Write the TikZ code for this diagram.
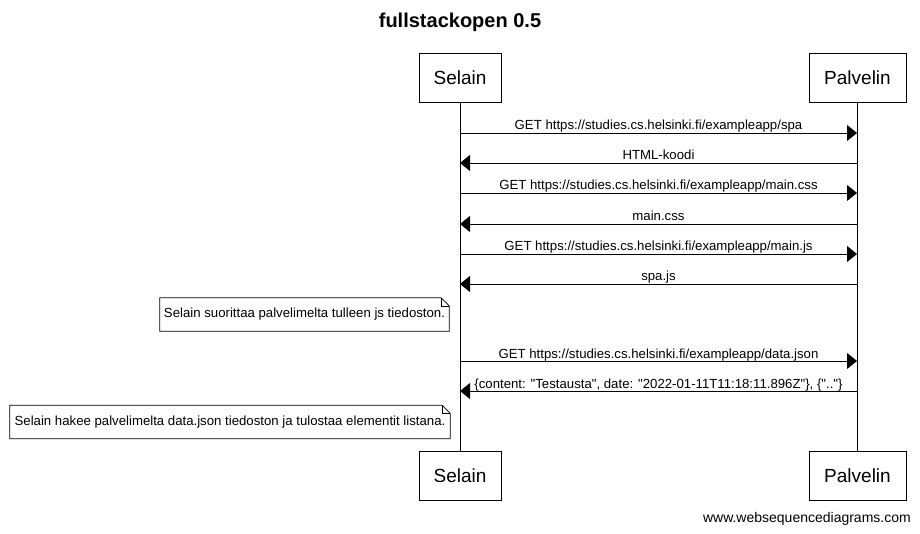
\documentclass[tikz,border=0pt]{standalone}
\usepackage{fontspec}
\setmainfont{Liberation Sans}[Ligatures=TeXOff]
\usetikzlibrary{arrows.meta}

\begin{document}
\begin{tikzpicture}[x=1pt,y=-1pt,
        actor/.style={draw,line width=0.8pt,minimum height=49pt,font=\fontsize{19}{23}\selectfont},
        msg/.style={-{Triangle[length=10pt,width=16pt]},line width=0.8pt},
        lbl/.style={anchor=base,yshift=3pt,inner sep=0pt,font=\fontsize{13.2}{15}\selectfont},
        note/.style={minimum height=33pt,inner sep=0pt,font=\fontsize{13.2}{15}\selectfont}]
        \useasboundingbox (0,0) rectangle (920,534);
        \node [font=\bfseries\fontsize{20}{24}\selectfont] (title) at (460,22) {fullstackopen 0.5};
        \node [actor,minimum width=82pt] (selT) at (460,77.5) {Selain};
        \node [actor,minimum width=97pt] (palT) at (857.5,77.5) {Palvelin};
        \node [actor,minimum width=82pt] (selB) at (460,476) {Selain};
        \node [actor,minimum width=97pt] (palB) at (857.5,476) {Palvelin};
        \draw[line width=0.8pt] (selT) -- (selB);
        \draw[line width=0.8pt] (palT) -- (palB);
        % message rows on the two lifelines
        \coordinate (s1) at (460,133); \coordinate (p1) at (857,133);
        \coordinate (s2) at (460,163); \coordinate (p2) at (857,163);
        \coordinate (s3) at (460,193); \coordinate (p3) at (857,193);
        \coordinate (s4) at (460,224); \coordinate (p4) at (857,224);
        \coordinate (s5) at (460,254); \coordinate (p5) at (857,254);
        \coordinate (s6) at (460,284); \coordinate (p6) at (857,284);
        \coordinate (s7) at (460,361); \coordinate (p7) at (857,361);
        \coordinate (s8) at (460,391); \coordinate (p8) at (857,391);
        \draw[msg] (s1) -- node[lbl] {GET https://studies.cs.helsinki.fi/exampleapp/spa} (p1);
        \draw[msg] (p2) -- node[lbl] {HTML-koodi} (s2);
        \draw[msg] (s3) -- node[lbl] {GET https://studies.cs.helsinki.fi/exampleapp/main.css} (p3);
        \draw[msg] (p4) -- node[lbl] {main.css} (s4);
        \draw[msg] (s5) -- node[lbl] {GET https://studies.cs.helsinki.fi/exampleapp/main.js} (p5);
        \draw[msg] (p6) -- node[lbl] {spa.js} (s6);
        \draw[msg] (s7) -- node[lbl] {GET https://studies.cs.helsinki.fi/exampleapp/data.json} (p7);
        \draw[msg] (p8) -- node[lbl] {\{content: "Testausta", date: "2022-01-11T11:18:11.896Z"\}, \{".."\}} (s8);
        % notes
        \node [note,minimum width=289pt] (n1) at (304.5,314.5) {Selain suorittaa palvelimelta tulleen js tiedoston.};
        \node [note,minimum width=440pt] (n2) at (230,422) {Selain hakee palvelimelta data.json tiedoston ja tulostaa elementit listana.};
        \foreach \n in {n1,n2} {
            \draw[line width=0.8pt] (\n.south west) -- (\n.north west) -- ([xshift=-8pt]\n.north east)
                -- ([yshift=-8pt]\n.north east) -- (\n.south east) -- cycle;
            \draw[line width=0.5pt] ([xshift=-8pt]\n.north east) -- ([xshift=-8pt,yshift=-8pt]\n.north east)
                -- ([yshift=-8pt]\n.north east);
        }
        \node [anchor=east,inner sep=0pt,font=\fontsize{14}{17}\selectfont] (wsd) at (911,519) {www.websequencediagrams.com};
      \end{tikzpicture}
\end{document}
